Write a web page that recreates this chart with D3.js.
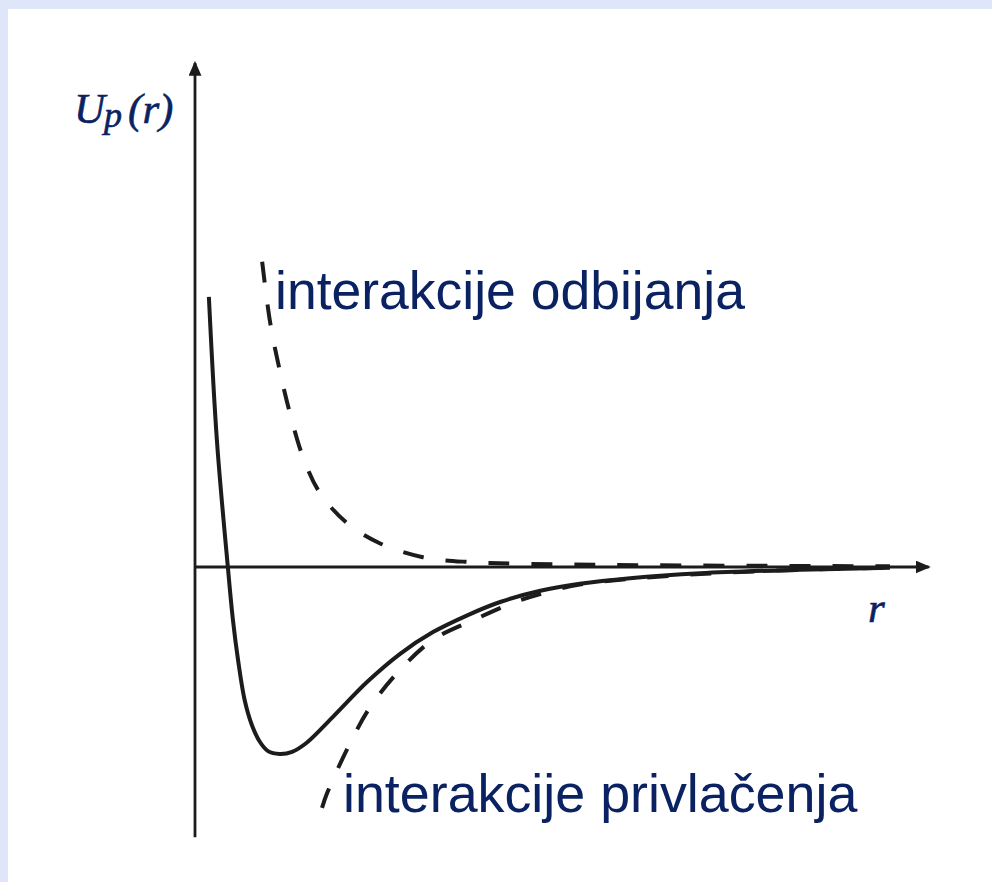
<!DOCTYPE html>
<html>
<head>
<meta charset="utf-8">
<script src="https://cdn.jsdelivr.net/npm/d3@7"></script>
<style>
body { margin: 0; background: #ffffff; }
</style>
</head>
<body>
<script>
var w = 992;
var h = 882;

// r, U pairs
var potentialCurve = [
[0.19, 3.86], [0.30, 1.81], [0.45, 0], [0.52, -0.76], [0.59, -1.33],
[0.68, -1.90], [0.78, -2.26], [0.89, -2.50], [1.00, -2.63], [1.16, -2.67],
[1.33, -2.64], [1.53, -2.51], [1.89, -2.14], [2.36, -1.64], [2.81, -1.24],
[3.26, -0.93], [3.73, -0.69], [4.18, -0.50], [4.73, -0.34], [5.27, -0.24],
[5.96, -0.16], [6.92, -0.09], [8.29, -0.04], [9.52, -0.01]
];

var repulsionCurve = [
[0.92, 4.36], [1.03, 3.49], [1.16, 2.81], [1.30, 2.20], [1.48, 1.57],
[1.71, 1.06], [2.08, 0.63], [2.53, 0.34], [3.12, 0.14], [3.77, 0.07],
[4.36, 0.05], [5.55, 0.03], [9.52, 0.01]
];

var attractionCurve = [
[1.74, -3.44], [1.81, -3.23], [2.10, -2.57], [2.40, -2.00], [2.81, -1.47],
[3.26, -1.04], [3.81, -0.76], [4.36, -0.51], [4.82, -0.36], [5.27, -0.25],
[5.96, -0.17], [6.92, -0.10], [8.29, -0.04], [9.52, -0.01]
];

var curveLabels = ["interakcije odbijanja", "interakcije privlačenja"];
var axisLabelY = ["U", "p", "(r)"];
var axisLabelX = "r";

var navy = "#0b2262";
var ink = "#1c1c1c";

var x = d3.scaleLinear().domain([0, 10]).range([195, 925]);
var y = d3.scaleLinear().domain([-4, 7]).range([847, 77]);

var svg = d3.select("body")
.append("svg")
.attr("width", w)
.attr("height", h);

// frame band
svg.append("rect")
.attr("x", 0).attr("y", 0)
.attr("width", w).attr("height", 9)
.attr("fill", "#e0e6fa");
svg.append("rect")
.attr("x", 0).attr("y", 0)
.attr("width", 8).attr("height", h)
.attr("fill", "#e0e6fa");

svg.append("defs").append("marker")
.attr("id", "arrow")
.attr("markerUnits", "userSpaceOnUse")
.attr("viewBox", "0 0 14 12")
.attr("refX", 12)
.attr("refY", 6)
.attr("markerWidth", 15)
.attr("markerHeight", 13)
.attr("orient", "auto")
.append("path")
.attr("d", "M0,0 L14,6 L0,12 z")
.attr("fill", ink);

// axes
svg.append("line")
.attr("x1", x(0)).attr("y1", y(-3.86))
.attr("x2", x(0)).attr("y2", y(7.2))
.attr("stroke", ink)
.attr("stroke-width", 2.8)
.attr("marker-end", "url(#arrow)");

svg.append("line")
.attr("x1", x(0)).attr("y1", y(0))
.attr("x2", x(10.05)).attr("y2", y(0))
.attr("stroke", ink)
.attr("stroke-width", 2.8)
.attr("marker-end", "url(#arrow)");

var line = d3.line()
.x(function(d){ return x(d[0]); })
.y(function(d){ return y(d[1]); })
.curve(d3.curveCatmullRom.alpha(0.5));

svg.append("path")
.datum(repulsionCurve)
.attr("d", line)
.attr("fill", "none")
.attr("stroke", ink)
.attr("stroke-width", 4)
.attr("stroke-dasharray", "21,22");

svg.append("path")
.datum(attractionCurve)
.attr("d", line)
.attr("fill", "none")
.attr("stroke", ink)
.attr("stroke-width", 4)
.attr("stroke-dasharray", "21,22");

svg.append("path")
.datum(potentialCurve)
.attr("d", line)
.attr("fill", "none")
.attr("stroke", ink)
.attr("stroke-width", 4);

// curve labels
svg.selectAll("text.curve")
.data(curveLabels)
.enter()
.append("text")
.attr("class", "curve")
.text(function(d){ return d; })
.attr("x", function(d, i){ return i == 0 ? 275 : 343; })
.attr("y", function(d, i){ return i == 0 ? 309 : 812; })
.attr("font-family", "Liberation Sans, Arial, sans-serif")
.attr("font-size", function(d, i){ return i == 0 ? "53.5px" : "53.8px"; })
.attr("fill", navy);

// axis labels
var yl = svg.append("text")
.attr("x", 74)
.attr("y", 123)
.attr("font-family", "Liberation Serif, serif")
.attr("font-style", "italic")
.attr("font-size", "43px")
.attr("fill", navy)
.attr("stroke", navy)
.attr("stroke-width", 0.6);
yl.append("tspan").text(axisLabelY[0]);
yl.append("tspan").text(axisLabelY[1]).attr("font-size", "36px").attr("dy", 4).attr("dx", -1);
yl.append("tspan").text(axisLabelY[2]).attr("dy", -4).attr("dx", 6);

svg.append("text")
.text(axisLabelX)
.attr("x", 868)
.attr("y", 622)
.attr("font-family", "Liberation Serif, serif")
.attr("font-style", "italic")
.attr("font-size", "43px")
.attr("fill", navy)
.attr("stroke", navy)
.attr("stroke-width", 0.6);
</script>
</body>
</html>
